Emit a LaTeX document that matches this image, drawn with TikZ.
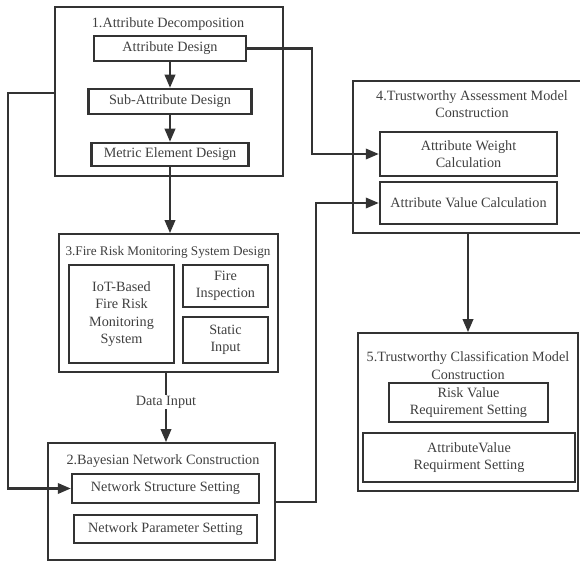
\documentclass[tikz,border=0pt]{standalone}
\usepackage{fontspec}
\setmainfont{Liberation Serif}
\usetikzlibrary{arrows.meta}
\definecolor{ln}{HTML}{333333}
\definecolor{tx}{HTML}{404040}
\begin{document}
\begin{tikzpicture}[x=1pt,y=-1pt,
  every node/.style={font=\fontsize{14.2}{17.5}\selectfont, text=tx},
  outer/.style={draw=ln, line width=1.8pt, inner sep=0pt},
  inner/.style={draw=ln, line width=2.5pt, inner sep=0pt, align=center},
  ttl/.style={inner sep=0pt, align=center},
  conn/.style={draw=ln, line width=2.1pt, -{Triangle[length=13pt,width=10.5pt]}},
  plain/.style={draw=ln, line width=2.1pt}
]
\useasboundingbox (0,0) rectangle (580,561);
\clip (0,0) rectangle (580,561);
\fill[white] (0,0) rectangle (580,561);

% Box 1
\node[outer, minimum width=228pt, minimum height=169pt] (b1) at (169,91.5) {};
\node[ttl] (t1) at (168,24) {1.Attribute Decomposition};
\node[inner, minimum width=152pt, minimum height=25pt] (ad) at (170,48.5) {Attribute Design};
\node[inner, minimum width=163pt, minimum height=25pt] (sad) at (170,101.5) {Sub-Attribute Design};
\node[inner, minimum width=157pt, minimum height=23pt] (med) at (170,154.5) {Metric Element Design};

% Box 4
\node[outer, minimum width=245pt, minimum height=152pt] (b4) at (475.5,157) {};
\node[ttl] (t4) at (472,104) {4.Trustworthy Assessment Model\\Construction};
\node[inner, minimum width=177pt, minimum height=44pt] (awc) at (468.5,154) {Attribute Weight\\Calculation};
\node[inner, minimum width=177pt, minimum height=42pt] (avc) at (468.5,203) {Attribute Value Calculation};

% Box 3
\node[outer, minimum width=219pt, minimum height=138pt] (b3) at (168.5,303) {};
\node[ttl, font=\fontsize{13.2}{15}\selectfont] (t3) at (168,252) {3.Fire Risk Monitoring System Design};
\node[inner, minimum width=105pt, minimum height=98pt] (iot) at (121.5,314) {IoT-Based\\Fire Risk\\Monitoring\\System};
\node[inner, minimum width=85pt, minimum height=42pt] (fi) at (225.5,286) {Fire\\Inspection};
\node[inner, minimum width=85pt, minimum height=46pt] (si) at (225.5,340) {Static\\Input};

% Box 2
\node[outer, minimum width=227pt, minimum height=117pt] (b2) at (161.5,501.5) {};
\node[ttl] (t2) at (163,461) {2.Bayesian Network Construction};
\node[inner, minimum width=187pt, minimum height=29pt] (nss) at (165.5,488.5) {Network Structure Setting};
\node[inner, minimum width=183pt, minimum height=28pt] (nps) at (165.5,529) {Network Parameter Setting};

% Box 5
\node[outer, minimum width=220pt, minimum height=158pt] (b5) at (468,412) {};
\node[ttl] (t5) at (468,365.5) {5.Trustworthy Classification Model\\Construction};
\node[inner, minimum width=159pt, minimum height=39pt] (rv) at (468.5,402.5) {Risk Value\\Requirement Setting};
\node[inner, minimum width=212pt, minimum height=49pt] (av) at (469,457.5) {AttributeValue\\Requirment Setting};

% Coordinates for routing
\coordinate (l1) at (8,93);
\coordinate (l2) at (8,488.5);
\coordinate (r1) at (312,48.5);
\coordinate (r2) at (312,154);
\coordinate (s1) at (316,502);
\coordinate (s2) at (316,203);

% Connectors
\draw[conn] (ad.south) -- (sad.north);
\draw[conn] (sad.south) -- (med.north);
\draw[conn] (med.south) -- (med.south |- b3.north);
\node[fill=white, inner sep=1pt] (di) at (166,402) {Data Input};
\draw[plain] (b3.south -| di) -- (di.north);
\draw[conn] (di.south) -- (di |- b2.north);
\draw[conn] (b1.west |- l1) -- (l1) -- (l2) -- (nss.west);
\draw[conn] (ad.east) -- (r1) -- (r2) -- (awc.west);
\draw[conn] (b2.east |- s1) -- (s1) -- (s2) -- (avc.west);
\draw[conn] (b5.north |- b4.south) -- (b5.north);
\end{tikzpicture}
\end{document}
